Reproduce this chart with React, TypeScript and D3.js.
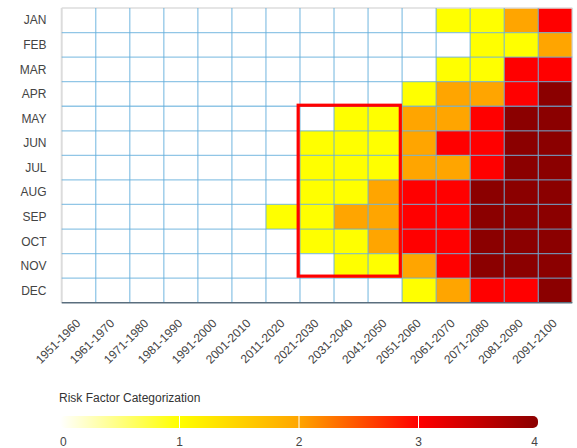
import React from "react";
import * as d3 from "d3";

const months = ["JAN", "FEB", "MAR", "APR", "MAY", "JUN", "JUL", "AUG", "SEP", "OCT", "NOV", "DEC"];

const decades = [
  "1951-1960", "1961-1970", "1971-1980", "1981-1990", "1991-2000",
  "2001-2010", "2011-2020", "2021-2030", "2031-2040", "2041-2050",
  "2051-2060", "2061-2070", "2071-2080", "2081-2090", "2091-2100",
];

// Risk category (0–4) per month, one entry per decade
const riskByMonth: number[][] = [
  [0, 0, 0, 0, 0, 0, 0, 0, 0, 0, 0, 1, 1, 2, 3], // JAN
  [0, 0, 0, 0, 0, 0, 0, 0, 0, 0, 0, 0, 1, 1, 2], // FEB
  [0, 0, 0, 0, 0, 0, 0, 0, 0, 0, 0, 1, 1, 3, 3], // MAR
  [0, 0, 0, 0, 0, 0, 0, 0, 0, 0, 1, 2, 2, 3, 4], // APR
  [0, 0, 0, 0, 0, 0, 0, 0, 1, 1, 2, 2, 3, 4, 4], // MAY
  [0, 0, 0, 0, 0, 0, 0, 1, 1, 1, 2, 3, 3, 4, 4], // JUN
  [0, 0, 0, 0, 0, 0, 0, 1, 1, 1, 2, 2, 3, 4, 4], // JUL
  [0, 0, 0, 0, 0, 0, 0, 1, 1, 2, 3, 3, 4, 4, 4], // AUG
  [0, 0, 0, 0, 0, 0, 1, 1, 2, 2, 3, 3, 4, 4, 4], // SEP
  [0, 0, 0, 0, 0, 0, 0, 1, 1, 2, 3, 3, 4, 4, 4], // OCT
  [0, 0, 0, 0, 0, 0, 0, 0, 1, 1, 2, 3, 4, 4, 4], // NOV
  [0, 0, 0, 0, 0, 0, 0, 0, 0, 0, 1, 2, 3, 3, 4], // DEC
];

const riskLevels = [0, 1, 2, 3, 4];
const riskColors = ["#ffffff", "#ffff00", "#ffa500", "#ff0000", "#8b0000"];

// Highlighted block of the heatmap
const highlightDecades = ["2021-2030", "2041-2050"];
const highlightMonths = ["MAY", "NOV"];

const legendTitle = "Risk Factor Categorization";

const W = 577;
const H = 448;
const FONT = "'Liberation Sans', Arial, Helvetica, sans-serif";

export default function App() {
  const x = d3.scaleBand<string>().domain(decades).range([61.7, 572.3]).padding(0);
  const y = d3.scaleBand<string>().domain(months).range([8, 302.7]).padding(0);
  const color = d3.scaleLinear<string>().domain(riskLevels).range(riskColors);

  const cells = riskByMonth.flatMap((row, i) =>
    row.map((v, j) => ({ month: months[i], decade: decades[j], v }))
  );

  const [gx0, gx1] = x.range();
  const [gy0, gy1] = y.range();
  const bw = x.bandwidth();
  const bh = y.bandwidth();

  const hx0 = x(highlightDecades[0])! - 1.8;
  const hx1 = x(highlightDecades[1])! + bw - 1.8;
  const hy0 = y(highlightMonths[0])! - 1;
  const hy1 = y(highlightMonths[1])! + bh - 2;

  // Legend
  const lx = d3.scaleLinear().domain([0, 4]).range([60, 538]);
  const barY = 416;
  const barH = 12;

  return (
    <svg
      width={W}
      height={H}
      style={{ position: "absolute", left: 0, top: 0, display: "block", background: "#fff" }}
      fontFamily={FONT}
    >
      <defs>
        <linearGradient id="riskGrad" x1="0" x2="1" y1="0" y2="0">
          {riskLevels.map((l, i) => (
            <stop key={l} offset={`${(l / 4) * 100}%`} stopColor={riskColors[i]} />
          ))}
        </linearGradient>
      </defs>

      {/* cells */}
      {cells.map((c) => (
        <rect
          key={c.month + c.decade}
          x={x(c.decade)}
          y={y(c.month)}
          width={bw}
          height={bh}
          fill={color(c.v)}
        />
      ))}

      {/* outer frame */}
      <line x1={gx0} x2={gx1} y1={gy0} y2={gy0} stroke="#dcdcdc" strokeWidth={1.5} />
      <line x1={gx0} x2={gx0} y1={gy0} y2={gy1} stroke="#dcdcdc" strokeWidth={2} />
      <line x1={gx1} x2={gx1} y1={gy0} y2={gy1} stroke="#d8d8d8" strokeWidth={1.5} />

      {/* grid lines */}
      {decades.slice(1).map((d) => (
        <line
          key={"v" + d}
          x1={x(d)}
          x2={x(d)}
          y1={gy0}
          y2={gy1}
          stroke="#62aedb"
          strokeOpacity={0.7}
          strokeWidth={1.3}
        />
      ))}
      {months.slice(1).map((m) => (
        <line
          key={"h" + m}
          x1={gx0}
          x2={gx1}
          y1={y(m)}
          y2={y(m)}
          stroke="#62aedb"
          strokeOpacity={0.7}
          strokeWidth={1.3}
        />
      ))}

      {/* bottom axis line */}
      <line x1={gx0} x2={gx1} y1={gy1} y2={gy1} stroke="#5a6e7e" strokeWidth={1.5} />

      {/* highlight box */}
      <rect
        x={hx0}
        y={hy0}
        width={hx1 - hx0}
        height={hy1 - hy0}
        fill="none"
        stroke="#ff0000"
        strokeWidth={3.2}
      />

      {/* month labels */}
      {months.map((m) => (
        <text
          key={m}
          x={46.5}
          y={y(m)! + bh / 2}
          dy="0.35em"
          textAnchor="end"
          fontSize={12}
          fill="#444"
        >
          {m}
        </text>
      ))}

      {/* decade labels */}
      {decades.map((d) => (
        <text
          key={d}
          transform={`translate(${x(d)! + bw / 2 + 2.5},${324}) rotate(-45)`}
          textAnchor="end"
          fontSize={12}
          fill="#444"
        >
          {d}
        </text>
      ))}

      {/* legend */}
      <text x={59} y={402} fontSize={12} fill="#333">
        {legendTitle}
      </text>
      <rect
        x={lx(0)}
        y={barY}
        width={lx(4) - lx(0)}
        height={barH}
        rx={5}
        fill="url(#riskGrad)"
      />
      {[1, 2, 3].map((t) => (
        <line
          key={t}
          x1={lx(t)}
          x2={lx(t)}
          y1={barY}
          y2={barY + barH}
          stroke="#fff"
          strokeWidth={1}
        />
      ))}
      {riskLevels.map((t, i) => (
        <text
          key={t}
          x={lx(t)}
          y={446}
          fontSize={12}
          fill="#444"
          textAnchor={i === 0 ? "start" : i === riskLevels.length - 1 ? "end" : "middle"}
        >
          {t}
        </text>
      ))}
    </svg>
  );
}
